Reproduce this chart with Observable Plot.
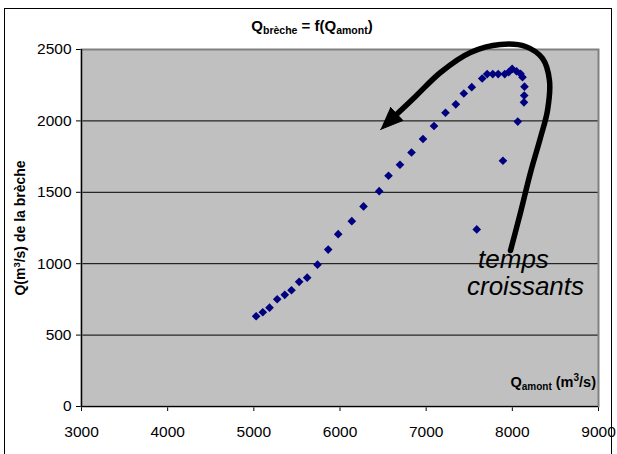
<!DOCTYPE html>
<html><head><meta charset="utf-8">
<script src="https://cdn.jsdelivr.net/npm/d3@7"></script>
<script src="https://cdn.jsdelivr.net/npm/@observablehq/plot@0.6"></script>
<style>
body{margin:0;background:#fff;}
#wrap{position:relative;width:617px;height:454px;overflow:hidden;font-family:"Liberation Sans",Arial,sans-serif;}
#border{position:absolute;left:4px;top:8px;width:608px;height:470px;border:1px solid #000;box-sizing:border-box;}
#chart{position:absolute;left:0;top:0;}
</style></head><body>
<div id="wrap"><div id="border"></div><div id="chart"></div></div>
<script>
// Data: Q amont (m3/s) and Q brèche (m3/s), in time order
const qAmont  = [7587, 7891, 8063, 8135, 8138, 8141, 8118, 8095, 8048, 7998, 7959, 7912, 7836, 7773, 7708, 7650, 7529, 7437, 7344, 7224, 7091, 6963, 6830, 6696, 6563, 6455, 6273, 6137, 5979, 5863, 5739, 5619, 5526, 5437, 5359, 5271, 5182, 5104, 5027];
const qBreche = [1240, 1721, 1995, 2130, 2178, 2240, 2306, 2330, 2348, 2364, 2342, 2328, 2328, 2328, 2328, 2297, 2236, 2192, 2116, 2057, 1964, 1873, 1779, 1693, 1616, 1508, 1401, 1298, 1207, 1099, 993, 902, 873, 814, 782, 751, 692, 660, 632];

const xTicks = [3000, 4000, 5000, 6000, 7000, 8000, 9000];
const yTicks = [0, 500, 1000, 1500, 2000, 2500];
const gridY = [500, 1000, 1500, 2000];

// Annotation: curved arrow "temps croissants"
const arrowX = [7979, 8095, 8211, 8327, 8408, 8431, 8350, 8153, 7862, 7514, 7166, 6876, 6655];
const arrowY = [1092, 1359, 1639, 1884, 2073, 2283, 2437, 2521, 2535, 2479, 2339, 2171, 2045];
const headX = [6470, 6730, 6585];
const headY = [1940, 2003, 2095];
const noteText = ["temps", "croissants"];
const noteX = [8013, 8153];
const noteY = [1030, 840];

const points = qAmont.map((x, i) => ({x, y: qBreche[i]}));
const arrow = arrowX.map((x, i) => ({x, y: arrowY[i]}));
const head = headX.map((x, i) => ({x, y: headY[i]}));
const notes = noteText.map((t, i) => ({t, x: noteX[i], y: noteY[i]}));

const FONT = "'Liberation Sans', Arial, sans-serif";
const chart = Plot.plot({
  width: 617,
  height: 454,
  marginLeft: 81,
  marginRight: 19,
  marginTop: 49,
  marginBottom: 48,
  style: {fontFamily: FONT, fontSize: "15px", background: "transparent", overflow: "visible"},
  x: {domain: [3000, 9000], ticks: xTicks, tickFormat: d => String(d), tickSize: 5, tickPadding: 14, label: null},
  y: {domain: [0, 2500], ticks: yTicks, tickFormat: d => String(d), tickSize: 5, tickPadding: 5, label: null},
  marks: [
    Plot.frame({fill: "#c0c0c0"}),
    Plot.ruleY(gridY, {stroke: "#000", strokeWidth: 1}),
    Plot.frame({stroke: "#808080", strokeWidth: 2}),
    Plot.ruleX([3000], {stroke: "#000", strokeWidth: 1.2}),
    Plot.ruleY([0], {stroke: "#000", strokeWidth: 1.2}),
    Plot.dot(points, {x: "x", y: "y", symbol: "diamond2", r: 3.9, fill: "#000080", stroke: "none"}),
    Plot.line(arrow, {x: "x", y: "y", curve: "catmull-rom", stroke: "#000", strokeWidth: 5.5, strokeLinecap: "round", clip: false}),
    Plot.line(head, {x: "x", y: "y", fill: "#000", stroke: "#000", strokeWidth: 1, clip: false}),
    Plot.text(notes, {x: "x", y: "y", text: "t", fontSize: 26, fontStyle: "italic", fill: "#000", textAnchor: "middle"})
  ]
});
document.getElementById("chart").appendChild(chart);

const svg = d3.select(chart);
// axis tick labels at the reference's size
svg.selectAll("text").filter(function () { return /^\d+$/.test(this.textContent.trim()); })
  .attr("font-size", 15.5).style("font-size", "15.5px").style("font-family", FONT);

function rich(sel, parts) {
  parts.forEach(p => {
    const ts = sel.append("tspan").text(p.t);
    if (p.size) ts.attr("font-size", p.size);
    if (p.dy) ts.attr("dy", p.dy);
  });
}
// Title
const title = svg.append("text").attr("x", 312).attr("y", 31).attr("text-anchor", "middle")
  .attr("font-weight", "bold").attr("font-size", 15).attr("fill", "#000");
rich(title, [{t: "Q"}, {t: "brèche", size: 10.5, dy: 3}, {t: " = f(Q", dy: -3}, {t: "amont", size: 10.5, dy: 3}, {t: ")", dy: -3}]);
// Y label
const ylab = svg.append("text").attr("transform", "translate(25,228) rotate(-90)").attr("text-anchor", "middle")
  .attr("font-weight", "bold").attr("font-size", 14).attr("fill", "#000");
rich(ylab, [{t: "Q(m"}, {t: "3", size: 9.5, dy: -5}, {t: "/s) de la brèche", dy: 5}]);
// X label
const xlab = svg.append("text").attr("x", 596).attr("y", 387).attr("text-anchor", "end")
  .attr("font-weight", "bold").attr("font-size", 14.5).attr("fill", "#000");
rich(xlab, [{t: "Q"}, {t: "amont", size: 10, dy: 3}, {t: " (m", dy: -3}, {t: "3", size: 10, dy: -6}, {t: "/s)", dy: 6}]);
</script>
</body></html>
